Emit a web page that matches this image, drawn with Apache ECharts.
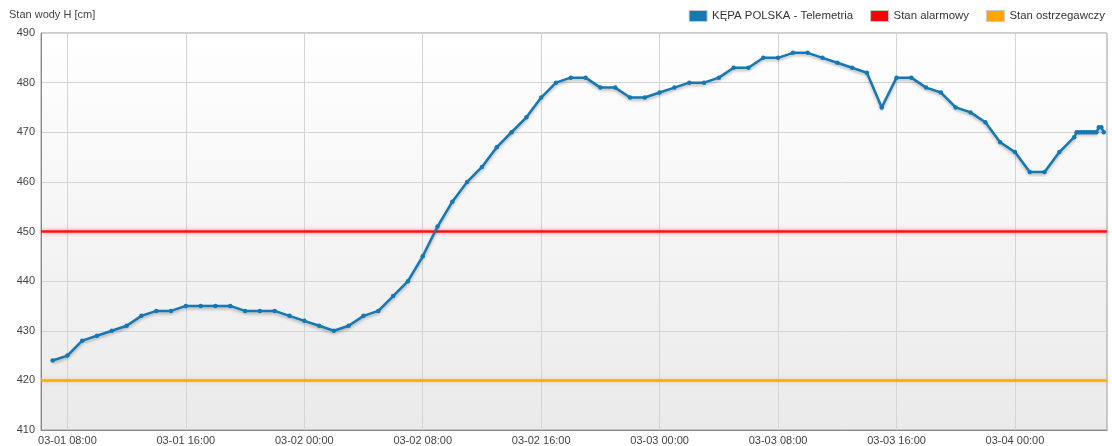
<!DOCTYPE html>
<html>
<head>
<meta charset="utf-8">
<script src="https://cdn.jsdelivr.net/npm/echarts@6/dist/echarts.min.js"></script>
<style>
  html, body { margin: 0; padding: 0; background: #ffffff; }
  #chart { width: 1112px; height: 446px; }
</style>
</head>
<body>
<div id="chart"></div>
<script>
// ---- data ----
var seriesName = 'KĘPA POLSKA - Telemetria';
var times = [
  '2013-03-01 07:00','2013-03-01 08:00','2013-03-01 09:00','2013-03-01 10:00','2013-03-01 11:00','2013-03-01 12:00',
  '2013-03-01 13:00','2013-03-01 14:00','2013-03-01 15:00','2013-03-01 16:00','2013-03-01 17:00','2013-03-01 18:00',
  '2013-03-01 19:00','2013-03-01 20:00','2013-03-01 21:00','2013-03-01 22:00','2013-03-01 23:00',
  '2013-03-02 00:00','2013-03-02 01:00','2013-03-02 02:00','2013-03-02 03:00','2013-03-02 04:00','2013-03-02 05:00',
  '2013-03-02 06:00','2013-03-02 07:00','2013-03-02 08:00','2013-03-02 09:00','2013-03-02 10:00','2013-03-02 11:00',
  '2013-03-02 12:00','2013-03-02 13:00','2013-03-02 14:00','2013-03-02 15:00','2013-03-02 16:00','2013-03-02 17:00',
  '2013-03-02 18:00','2013-03-02 19:00','2013-03-02 20:00','2013-03-02 21:00','2013-03-02 22:00','2013-03-02 23:00',
  '2013-03-03 00:00','2013-03-03 01:00','2013-03-03 02:00','2013-03-03 03:00','2013-03-03 04:00','2013-03-03 05:00',
  '2013-03-03 06:00','2013-03-03 07:00','2013-03-03 08:00','2013-03-03 09:00','2013-03-03 10:00','2013-03-03 11:00',
  '2013-03-03 12:00','2013-03-03 13:00','2013-03-03 14:00','2013-03-03 15:00','2013-03-03 16:00','2013-03-03 17:00',
  '2013-03-03 18:00','2013-03-03 19:00','2013-03-03 20:00','2013-03-03 21:00','2013-03-03 22:00','2013-03-03 23:00',
  '2013-03-04 00:00','2013-03-04 01:00','2013-03-04 02:00','2013-03-04 03:00','2013-03-04 04:00',
  '2013-03-04 04:10','2013-03-04 04:20','2013-03-04 04:30','2013-03-04 04:40','2013-03-04 04:50','2013-03-04 05:00',
  '2013-03-04 05:10','2013-03-04 05:20','2013-03-04 05:30','2013-03-04 05:40','2013-03-04 05:50','2013-03-04 06:00'
];
var levels = [
  424,425,428,429,430,431,
  433,434,434,435,435,435,
  435,434,434,434,433,
  432,431,430,431,433,434,
  437,440,445,451,456,460,
  463,467,470,473,477,480,
  481,481,479,479,477,477,
  478,479,480,480,481,483,
  483,485,485,486,486,485,
  484,483,482,475,481,481,
  479,478,475,474,472,468,
  466,462,462,466,469,
  470,470,470,470,470,470,
  470,470,470,471,471,470
];
var alarmLevel = 450;     // Stan alarmowy
var warningLevel = 420;   // Stan ostrzegawczy
var xMin = '2013-03-01 06:13';
var xMax = '2013-03-04 06:13';
var xTickTimes = ['2013-03-01 08:00','2013-03-01 16:00','2013-03-02 00:00','2013-03-02 08:00',
  '2013-03-02 16:00','2013-03-03 00:00','2013-03-03 08:00','2013-03-03 16:00','2013-03-04 00:00'];
var yMin = 410, yMax = 490, yStep = 10;

// ---- helpers ----
function toMs(s) {
  var p = s.split(/[- :]/).map(Number);
  return Date.UTC(p[0], p[1] - 1, p[2], p[3], p[4]);
}
function pad(n) { return (n < 10 ? '0' : '') + n; }
function fmt(ms) {
  var d = new Date(ms);
  return pad(d.getUTCMonth() + 1) + '-' + pad(d.getUTCDate()) + ' ' + pad(d.getUTCHours()) + ':' + pad(d.getUTCMinutes());
}
var mainData = times.map(function (t, i) { return [toMs(t), levels[i]]; });
var tickMs = xTickTimes.map(toMs);

var chart = echarts.init(document.getElementById('chart'), null, { renderer: 'canvas' });
var font = 'Liberation Sans, Arial, sans-serif';
chart.setOption({
  animation: false,
  textStyle: { fontFamily: font },
  title: {
    text: 'Stan wody H [cm]', left: 4, top: 4,
    textStyle: { fontSize: 11, fontWeight: 'normal', color: '#444', fontFamily: font }
  },
  legend: {
    right: 2, top: 5, icon: 'rect', itemWidth: 18, itemHeight: 11, itemGap: 17,
    textStyle: { fontSize: 11.4, color: '#333', fontFamily: font },
    itemStyle: { borderColor: '#c8c8c8', borderWidth: 1 },
    data: [seriesName, 'Stan alarmowy', 'Stan ostrzegawczy']
  },
  grid: {
    left: 41, right: 5, top: 33, bottom: 15, containLabel: false,
    show: true, borderColor: '#9a9a9a', borderWidth: 1,
    backgroundColor: new echarts.graphic.LinearGradient(0, 0, 0, 1, [
      { offset: 0, color: '#ffffff' }, { offset: 1, color: '#eaeaea' }
    ])
  },
  xAxis: {
    type: 'value', min: toMs(xMin), max: toMs(xMax),
    axisLine: { show: true, lineStyle: { color: '#8a8a8a', width: 1 } },
    axisTick: { show: false, customValues: tickMs },
    axisLabel: {
      customValues: tickMs, color: '#444', fontSize: 11, margin: 5,
      formatter: function (v) { return fmt(v); }
    },
    splitLine: { show: true, lineStyle: { color: '#d4d4d4', width: 1 } }
  },
  yAxis: {
    type: 'value', min: yMin, max: yMax, interval: yStep,
    axisLine: { show: true, lineStyle: { color: '#8a8a8a', width: 1 } },
    axisTick: { show: false },
    axisLabel: { color: '#444', fontSize: 11, margin: 6 },
    splitLine: { show: true, lineStyle: { color: '#d4d4d4', width: 1 } }
  },
  series: [
    {
      name: 'Stan alarmowy', type: 'line', data: [], color: '#ff0000', z: 3,
      markLine: {
        silent: true, symbol: 'none', label: { show: false },
        lineStyle: { color: '#ff1010', width: 2.5, type: 'solid', shadowColor: 'rgba(255,0,0,0.45)', shadowBlur: 4 },
        data: [{ yAxis: alarmLevel }]
      }
    },
    {
      name: 'Stan ostrzegawczy', type: 'line', data: [], color: '#ffa500', z: 3,
      markLine: {
        silent: true, symbol: 'none', label: { show: false },
        lineStyle: { color: '#ffa510', width: 2.5, type: 'solid', shadowColor: 'rgba(255,165,0,0.45)', shadowBlur: 4 },
        data: [{ yAxis: warningLevel }]
      }
    },
    {
      name: seriesName, type: 'line', data: mainData, color: '#0a76b6', z: 5,
      symbol: 'circle', symbolSize: 4.5, showSymbol: true, showAllSymbol: true,
      lineStyle: { width: 2.5, color: '#1478b3', shadowColor: 'rgba(0,0,0,0.28)', shadowBlur: 3, shadowOffsetY: 2 },
      itemStyle: { color: '#1478b3' }
    }
  ]
});
</script>
</body>
</html>
